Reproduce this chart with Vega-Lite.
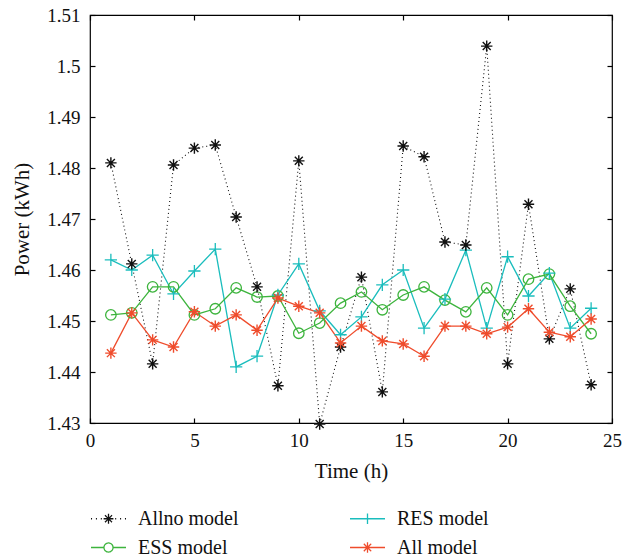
{
  "$schema": "https://vega.github.io/schema/vega-lite/v6.json",
  "autosize": "none",
  "width": 522,
  "height": 408,
  "padding": {"left": 90, "top": 15, "right": 22, "bottom": 133},
  "background": "white",
  "config": {
    "font": "Liberation Serif",
    "view": {"stroke": "#000", "strokeWidth": 1.2},
    "axis": {"grid": false, "domain": false, "tickColor": "#000", "tickSize": -5, "tickWidth": 1.2, "labelFlush": false, "labelOverlap": false, "labelFont": "Liberation Serif", "labelFontSize": 19, "labelColor": "#111", "titleFont": "Liberation Serif", "titleFontSize": 21, "titleFontWeight": "normal", "titleColor": "#111"}
  },
  "data": {"values": [
    {"t":1,"series":"Allno model","v":1.4810},{"t":2,"series":"Allno model","v":1.4612},{"t":3,"series":"Allno model","v":1.4416},{"t":4,"series":"Allno model","v":1.4806},{"t":5,"series":"Allno model","v":1.4839},{"t":6,"series":"Allno model","v":1.4845},{"t":7,"series":"Allno model","v":1.4704},{"t":8,"series":"Allno model","v":1.4567},{"t":9,"series":"Allno model","v":1.4373},{"t":10,"series":"Allno model","v":1.4814},{"t":11,"series":"Allno model","v":1.4298},{"t":12,"series":"Allno model","v":1.4449},{"t":13,"series":"Allno model","v":1.4586},{"t":14,"series":"Allno model","v":1.4361},{"t":15,"series":"Allno model","v":1.4843},{"t":16,"series":"Allno model","v":1.4822},{"t":17,"series":"Allno model","v":1.4655},{"t":18,"series":"Allno model","v":1.4649},{"t":19,"series":"Allno model","v":1.5039},{"t":20,"series":"Allno model","v":1.4416},{"t":21,"series":"Allno model","v":1.4729},{"t":22,"series":"Allno model","v":1.4465},{"t":23,"series":"Allno model","v":1.4563},{"t":24,"series":"Allno model","v":1.4375},
    {"t":1,"series":"RES model","v":1.4620},{"t":2,"series":"RES model","v":1.4600},{"t":3,"series":"RES model","v":1.4629},{"t":4,"series":"RES model","v":1.4553},{"t":5,"series":"RES model","v":1.4598},{"t":6,"series":"RES model","v":1.4641},{"t":7,"series":"RES model","v":1.4410},{"t":8,"series":"RES model","v":1.4431},{"t":9,"series":"RES model","v":1.4551},{"t":10,"series":"RES model","v":1.4612},{"t":11,"series":"RES model","v":1.4520},{"t":12,"series":"RES model","v":1.4473},{"t":13,"series":"RES model","v":1.4508},{"t":14,"series":"RES model","v":1.4571},{"t":15,"series":"RES model","v":1.4600},{"t":16,"series":"RES model","v":1.4486},{"t":17,"series":"RES model","v":1.4543},{"t":18,"series":"RES model","v":1.4639},{"t":19,"series":"RES model","v":1.4486},{"t":20,"series":"RES model","v":1.4626},{"t":21,"series":"RES model","v":1.4549},{"t":22,"series":"RES model","v":1.4594},{"t":23,"series":"RES model","v":1.4486},{"t":24,"series":"RES model","v":1.4525},
    {"t":1,"series":"ESS model","v":1.4512},{"t":2,"series":"ESS model","v":1.4516},{"t":3,"series":"ESS model","v":1.4567},{"t":4,"series":"ESS model","v":1.4567},{"t":5,"series":"ESS model","v":1.4512},{"t":6,"series":"ESS model","v":1.4524},{"t":7,"series":"ESS model","v":1.4565},{"t":8,"series":"ESS model","v":1.4547},{"t":9,"series":"ESS model","v":1.4549},{"t":10,"series":"ESS model","v":1.4476},{"t":11,"series":"ESS model","v":1.4496},{"t":12,"series":"ESS model","v":1.4535},{"t":13,"series":"ESS model","v":1.4557},{"t":14,"series":"ESS model","v":1.4522},{"t":15,"series":"ESS model","v":1.4551},{"t":16,"series":"ESS model","v":1.4567},{"t":17,"series":"ESS model","v":1.4541},{"t":18,"series":"ESS model","v":1.4518},{"t":19,"series":"ESS model","v":1.4565},{"t":20,"series":"ESS model","v":1.4512},{"t":21,"series":"ESS model","v":1.4582},{"t":22,"series":"ESS model","v":1.4592},{"t":23,"series":"ESS model","v":1.4529},{"t":24,"series":"ESS model","v":1.4475},
    {"t":1,"series":"All model","v":1.4437},{"t":2,"series":"All model","v":1.4516},{"t":3,"series":"All model","v":1.4463},{"t":4,"series":"All model","v":1.4449},{"t":5,"series":"All model","v":1.4518},{"t":6,"series":"All model","v":1.4490},{"t":7,"series":"All model","v":1.4512},{"t":8,"series":"All model","v":1.4482},{"t":9,"series":"All model","v":1.4545},{"t":10,"series":"All model","v":1.4529},{"t":11,"series":"All model","v":1.4516},{"t":12,"series":"All model","v":1.4457},{"t":13,"series":"All model","v":1.4490},{"t":14,"series":"All model","v":1.4461},{"t":15,"series":"All model","v":1.4455},{"t":16,"series":"All model","v":1.4431},{"t":17,"series":"All model","v":1.4490},{"t":18,"series":"All model","v":1.4490},{"t":19,"series":"All model","v":1.4475},{"t":20,"series":"All model","v":1.4488},{"t":21,"series":"All model","v":1.4524},{"t":22,"series":"All model","v":1.4478},{"t":23,"series":"All model","v":1.4469},{"t":24,"series":"All model","v":1.4504}
  ]},
  "layer": [
    {
      "transform": [{"filter": "datum.series === 'Allno model'"}],
      "mark": {"type": "line", "strokeWidth": 1.1, "strokeDash": [1, 3], "clip": false},
      "encoding": {
        "x": {"field": "t", "type": "quantitative", "scale": {"domain": [0, 25], "nice": false}, "axis": {"orient": "bottom", "values": [0,5,10,15,20,25], "title": "Time (h)", "labelPadding": 13, "titlePadding": 10}},
        "y": {"field": "v", "type": "quantitative", "scale": {"domain": [1.43, 1.51], "nice": false, "zero": false}, "axis": {"orient": "left", "values": [1.43,1.44,1.45,1.46,1.47,1.48,1.49,1.5,1.51], "format": ".3~g", "title": "Power (kWh)", "labelPadding": 15, "titlePadding": 14}},
        "color": {"field": "series", "type": "nominal", "scale": {"domain": ["Allno model", "ESS model", "RES model", "All model"], "range": ["#111111", "#3DB43D", "#1ABDBD", "#EF4C2C"]},
          "legend": {"orient": "none", "legendX": 0, "legendY": 485, "title": null, "columns": 2, "columnPadding": 108, "rowPadding": -7, "symbolSize": 1225, "labelFont": "Liberation Serif", "labelFontSize": 20, "labelColor": "#111", "labelOffset": 11, "labelLimit": 250,
            "encode": {"symbols": {"update": {
              "shape": [
                {"test": "datum.value === 'Allno model'", "value": "M-1,0L-0.94,0M-0.72,0L-0.66,0M-0.44,0L-0.38,0M-0.28,0L0.28,0M0,-0.28L0,0.28M-0.2,-0.2L0.2,0.2M-0.2,0.2L0.2,-0.2M0.38,0L0.44,0M0.66,0L0.72,0M0.94,0L1,0"},
                {"test": "datum.value === 'RES model'", "value": "M-1,0L1,0M0,-0.3L0,0.3"},
                {"test": "datum.value === 'ESS model'", "value": "M-1,0L-0.26,0M0.26,0L1,0M0.26,0A0.26,0.26 0 1,1 -0.26,0A0.26,0.26 0 1,1 0.26,0"},
                {"value": "M-1,0L1,0M0,-0.3L0,0.3M-0.21,-0.21L0.21,0.21M-0.21,0.21L0.21,-0.21"}
              ],
              "fill": {"value": "transparent"},
              "strokeWidth": {"value": 1.3},
              "strokeDash": {"value": [1, 0]},
              "opacity": {"value": 1}
            }}}
          }},
        "order": {"field": "t", "type": "quantitative"}
      }
    },
    {
      "transform": [{"filter": "datum.series !== 'Allno model'"}],
      "mark": {"type": "line", "strokeWidth": 1.3, "clip": false},
      "encoding": {
        "x": {"field": "t", "type": "quantitative", "axis": {"orient": "top", "values": [0,5,10,15,20,25], "labels": false, "title": null}},
        "y": {"field": "v", "type": "quantitative", "axis": {"orient": "right", "values": [1.43,1.44,1.45,1.46,1.47,1.48,1.49,1.5,1.51], "labels": false, "title": null}},
        "color": {"field": "series", "type": "nominal"},
        "order": {"field": "t", "type": "quantitative"}
      }
    },
    {
      "transform": [{"filter": "datum.series === 'ESS model'"}],
      "mark": {"type": "point", "shape": "circle", "filled": false, "size": 110, "strokeWidth": 1.3, "opacity": 1, "clip": false},
      "encoding": {
        "x": {"field": "t", "type": "quantitative", "axis": null},
        "y": {"field": "v", "type": "quantitative", "axis": null},
        "color": {"field": "series", "type": "nominal"}
      }
    },
    {
      "transform": [{"filter": "datum.series === 'RES model'"}],
      "mark": {"type": "point", "shape": "M-1,0L1,0M0,-1L0,1", "filled": false, "size": 150, "strokeWidth": 1.3, "opacity": 1, "clip": false},
      "encoding": {
        "x": {"field": "t", "type": "quantitative", "axis": null},
        "y": {"field": "v", "type": "quantitative", "axis": null},
        "color": {"field": "series", "type": "nominal"}
      }
    },
    {
      "transform": [{"filter": "datum.series === 'All model' || datum.series === 'Allno model'"}],
      "mark": {"type": "point", "shape": "M-1,0L1,0M0,-1L0,1M-0.7,-0.7L0.7,0.7M-0.7,0.7L0.7,-0.7", "filled": false, "size": 130, "strokeWidth": 1.4, "opacity": 1, "clip": false},
      "encoding": {
        "x": {"field": "t", "type": "quantitative", "axis": null},
        "y": {"field": "v", "type": "quantitative", "axis": null},
        "color": {"field": "series", "type": "nominal"}
      }
    }
  ],
  "resolve": {"axis": {"x": "independent", "y": "independent"}}
}
